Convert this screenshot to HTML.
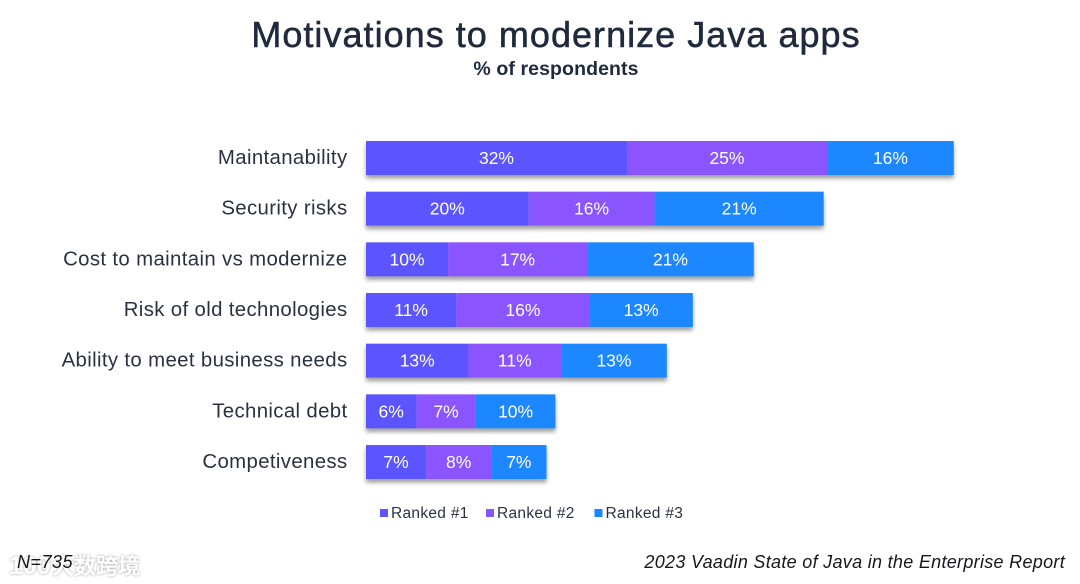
<!DOCTYPE html>
<html lang="en">
<head>
<meta charset="utf-8">
<title>Motivations to modernize Java apps</title>
<style>
html,body{margin:0;padding:0;background:#fff;width:1080px;height:584px;overflow:hidden}
svg{display:block}
text{font-family:"Liberation Sans","Noto Sans CJK SC",sans-serif}
</style>
</head>
<body>
<svg id="chart" width="1080" height="584" viewBox="0 0 1080 584" xmlns="http://www.w3.org/2000/svg">
  <defs>
    <filter id="bar-shadow" x="-5%" y="-20%" width="110%" height="150%">
      <feDropShadow dx="0" dy="3.5" stdDeviation="2.2" flood-color="#000" flood-opacity="0.38"/>
    </filter>
    <filter id="wm-glow" x="-20%" y="-40%" width="140%" height="180%">
      <feDropShadow dx="0" dy="0" stdDeviation="1.4" flood-color="#777" flood-opacity="0.75"/>
    </filter>
  </defs>
  <text x="556" y="47" text-anchor="middle" font-size="36" letter-spacing="1.03" fill="#1f2a3c" stroke="#1f2a3c" stroke-width="0.55">Motivations to modernize Java apps</text>
  <text x="556" y="75" text-anchor="middle" font-size="19.5" font-weight="700" letter-spacing="0.1" fill="#1f2a3c">% of respondents</text>
  <g id="rows"></g>
  <g id="legend"></g>
  <g filter="url(#wm-glow)">
    <text x="9" y="574" font-size="25" font-weight="700" fill="#fff">100</text>
    <text x="52" y="574" font-size="22" font-weight="700" fill="#fff">大数跨境</text>
  </g>
  <text x="17" y="568" font-size="18" font-style="italic" letter-spacing="0.5" fill="#15171c">N=735</text>
  <text x="1065" y="568" text-anchor="end" font-size="18" font-style="italic" letter-spacing="0.3" fill="#15171c">2023 Vaadin State of Java in the Enterprise Report</text>
</svg>
<script>
const categories = ["Maintanability", "Security risks", "Cost to maintain vs modernize", "Risk of old technologies", "Ability to meet business needs", "Technical debt", "Competiveness"];
const seriesNames = ["Ranked #1", "Ranked #2", "Ranked #3"];
const ranked1 = [32.1, 20.0, 10.1, 11.1, 12.6, 6.2, 7.4];
const ranked2 = [24.6, 15.5, 17.1, 16.4, 11.4, 7.3, 8.0];
const ranked3 = [15.6, 20.8, 20.5, 12.7, 13.0, 9.8, 6.8];

const seriesValues = [ranked1, ranked2, ranked3];
const seriesColors = ["#5c55ff", "#8a55ff", "#1b87ff"];
const NS = "http://www.w3.org/2000/svg";
const xScale = function (v) { return v * 8.13; };
const yScale = function (i) { return 141 + i * 50.67; };
const BAR_LEFT = 366;
const BAR_HEIGHT = 34;

function make(tag, attrs, parent, content) {
  const el = document.createElementNS(NS, tag);
  Object.keys(attrs).forEach(function (k) { el.setAttribute(k, attrs[k]); });
  if (content !== undefined) el.textContent = content;
  parent.appendChild(el);
  return el;
}

const rowsGroup = document.getElementById("rows");
categories.forEach(function (cat, i) {
  const y = yScale(i);
  const label = make("text", { x: 347.5, y: y + 23, "text-anchor": "end", "font-size": 20.4, "letter-spacing": 0.35, fill: "#2a3242" }, rowsGroup, cat);
  
  

  const stack = make("g", { filter: "url(#bar-shadow)" }, rowsGroup);
  
  

  let cum = 0;
  seriesValues.forEach(function (vals, s) {
    const x = BAR_LEFT + xScale(cum);
    const w = xScale(vals[i]);
    const seg = make("rect", { x: x, y: y, width: w, height: BAR_HEIGHT, fill: seriesColors[s] }, stack);
    
    
    cum += vals[i];
  });

  cum = 0;
  seriesValues.forEach(function (vals, s) {
    const x = BAR_LEFT + xScale(cum);
    const w = xScale(vals[i]);
    const val = make("text", { x: x + w / 2, y: y + 23, "text-anchor": "middle", "font-size": 17.5, fill: "#fff" }, rowsGroup, Math.round(vals[i]) + "%");
    
    
    cum += vals[i];
  });
});

const legendGroup = document.getElementById("legend");
const legendOffsets = [0, 106, 214.5];
seriesNames.forEach(function (name, s) {
  const entry = make("g", { transform: "translate(" + (380 + legendOffsets[s]) + ",0)" }, legendGroup);
  
  
  const swatch = make("rect", { x: 0, y: 509, width: 8, height: 8, fill: seriesColors[s] }, entry);
  
  
  const txt = make("text", { x: 11, y: 518, "font-size": 15.5, "letter-spacing": 0.3, fill: "#2a3242" }, entry, name);
  
  
});
</script>
</body>
</html>
